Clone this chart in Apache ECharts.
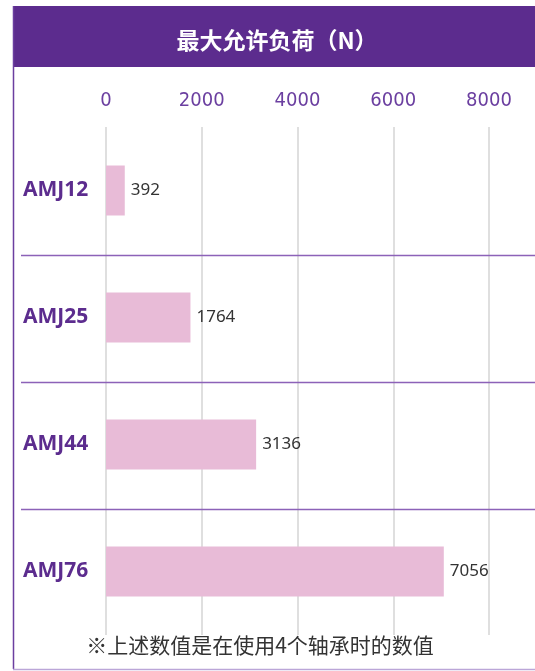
<!DOCTYPE html>
<html><head><meta charset="utf-8">
<script src="https://cdn.jsdelivr.net/npm/echarts@6/dist/echarts.min.js"></script>
<style>html,body{margin:0;padding:0;background:#fff;}#c{width:535px;height:671px;}</style>
</head><body><div id="c"></div>
<script>
const categories = ['AMJ12', 'AMJ25', 'AMJ44', 'AMJ76'];
const loads = [392, 1764, 3136, 7056];
const xTicks = [0, 2000, 4000, 6000, 8000];
const titleText = '最大允许负荷（N）';
const noteText = '※上述数值是在使用4个轴承时的数值';

const PURPLE = '#5c2c8e';
const chart = echarts.init(document.getElementById('c'), null, {renderer: 'canvas'});
const option = {
  animation: false,
  backgroundColor: '#fff',
  grid: {left: 106, right: 46, top: 127, bottom: 36, containLabel: false},
  xAxis: {
    type: 'value', position: 'top',
    min: xTicks[0], max: xTicks[xTicks.length - 1], interval: xTicks[1] - xTicks[0],
    axisLine: {show: false}, axisTick: {show: false},
    axisLabel: {color: '#6b3fa0', fontSize: 20, fontFamily: '"DejaVu Sans Condensed", "Liberation Sans Narrow", "Noto Sans", sans-serif', margin: 16, formatter: v => String(v)},
    splitLine: {show: true, lineStyle: {color: '#d4d4d4', width: 1.5}}
  },
  yAxis: {
    type: 'category', inverse: true, data: categories,
    axisLine: {show: false}, axisTick: {show: false}, splitLine: {show: false},
    axisLabel: {color: PURPLE, fontSize: 21, fontWeight: 'bold', fontFamily: '"Noto Sans", sans-serif', align: 'left', margin: 83}
  },
  series: [{
    type: 'bar', data: loads, barWidth: 50,
    itemStyle: {color: '#e8bbd7'},
    label: {show: true, position: 'right', distance: 6, color: '#333', fontSize: 17, fontFamily: '"Noto Sans", sans-serif'}
  }]
};
chart.setOption(option);

const graphics = [
  {type: 'rect', shape: {x: 13, y: 6, width: 522, height: 61}, style: {fill: PURPLE}, z: 10},
  {type: 'text', x: 277, y: 40, style: {text: titleText, fill: '#fff', font: 'bold 23px "Noto Sans CJK SC", sans-serif', textAlign: 'center', textVerticalAlign: 'middle'}, z: 11},
  {type: 'line', shape: {x1: 13.5, y1: 6, x2: 13.5, y2: 669}, style: {stroke: '#6b3fa0', lineWidth: 1.5}, z: 10},
  {type: 'line', shape: {x1: 13, y1: 669.5, x2: 535, y2: 669.5}, style: {stroke: '#bba6d8', lineWidth: 1.5}, z: 10},
  {type: 'text', x: 260, y: 645, style: {text: noteText, fill: '#333', font: '21px "Noto Sans CJK SC", sans-serif', textAlign: 'center', textVerticalAlign: 'middle'}, z: 11}
];
for (let i = 0; i < categories.length - 1; i++) {
  const y1 = chart.convertToPixel({yAxisIndex: 0}, categories[i]);
  const y2 = chart.convertToPixel({yAxisIndex: 0}, categories[i + 1]);
  const y = Math.round((y1 + y2) / 2) + 1.5;
  graphics.push({type: 'line', shape: {x1: 21, y1: y, x2: 535, y2: y}, style: {stroke: '#8c62b8', lineWidth: 1.5}, z: 5});
}
chart.setOption({graphic: graphics});
</script></body></html>
